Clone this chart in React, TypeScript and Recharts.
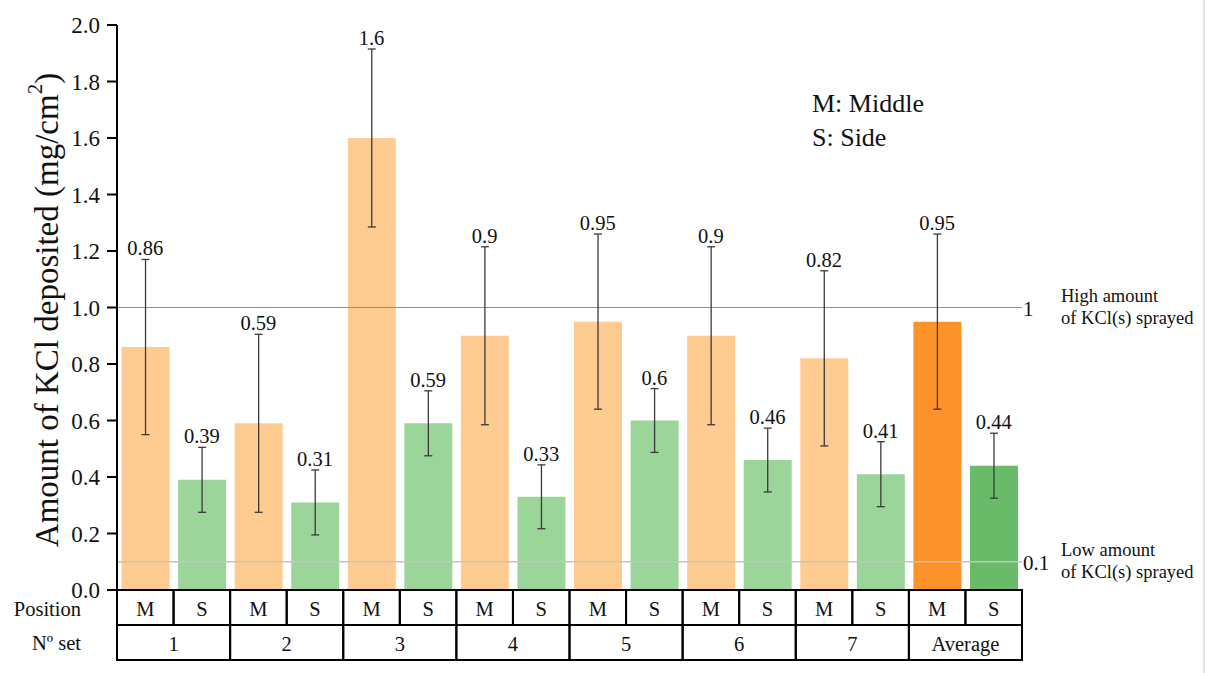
import {
  ComposedChart,
  Bar,
  Cell,
  ErrorBar,
  Line,
  LabelList,
  XAxis,
  YAxis,
  ReferenceLine,
} from "recharts";

const FONT = '"Liberation Serif", "Times New Roman", serif';
const WIDTH = 1205;
const HEIGHT = 673;
const PLOT_LEFT = 117;
const PLOT_RIGHT = 1022;
const ROW_H = 35;

const SET_NAMES = ["1", "2", "3", "4", "5", "6", "7", "Average"];
const POSITIONS = ["M", "S"];
const MIDDLE_VALUES = [0.86, 0.59, 1.6, 0.9, 0.95, 0.9, 0.82, 0.95];
const SIDE_VALUES = [0.39, 0.31, 0.59, 0.33, 0.6, 0.46, 0.41, 0.44];
const MIDDLE_SD = [0.31, 0.315, 0.315, 0.315, 0.31, 0.315, 0.31, 0.31];
const SIDE_SD = [0.115, 0.115, 0.115, 0.113, 0.113, 0.113, 0.115, 0.115];
const Y_TICKS = [0, 0.2, 0.4, 0.6, 0.8, 1.0, 1.2, 1.4, 1.6, 1.8, 2.0];

const COLORS = {
  M: "#fecb91",
  S: "#9bd59a",
  avgM: "#fe922a",
  avgS: "#6abb69",
};

const data = SET_NAMES.flatMap((set, i) => {
  const avg = set === "Average";
  return POSITIONS.map((pos) => {
    const value = pos === "M" ? MIDDLE_VALUES[i] : SIDE_VALUES[i];
    const err = pos === "M" ? MIDDLE_SD[i] : SIDE_SD[i];
    return {
      pos,
      set,
      value,
      err,
      top: value + err,
      color: avg ? (pos === "M" ? COLORS.avgM : COLORS.avgS) : COLORS[pos as "M" | "S"],
    };
  });
});

const COL_W = (PLOT_RIGHT - PLOT_LEFT) / data.length;
const SET_W = (PLOT_RIGHT - PLOT_LEFT) / SET_NAMES.length;

function TableCell({ x, y, payload, cellWidth }: any) {
  return (
    <g>
      <rect
        x={x - cellWidth / 2}
        y={y}
        width={cellWidth}
        height={ROW_H}
        fill="none"
        stroke="#000"
        strokeWidth={2}
      />
      <text
        x={x}
        y={y + ROW_H / 2 + 1}
        textAnchor="middle"
        dominantBaseline="central"
        fontSize={20.5}
        fontFamily={FONT}
        fill="#111"
      >
        {payload.value}
      </text>
    </g>
  );
}

function RefLabel({ viewBox, mark, lead, up, down }: any) {
  const { x, y, width } = viewBox;
  const right = x + width;
  return (
    <g fontFamily={FONT} fill="#111">
      <text x={right + 1} y={y + 1} dominantBaseline="central" fontSize={21}>
        {mark}
      </text>
      <text x={right + 39} y={y - up} dominantBaseline="central" fontSize={18.5}>
        {lead}
      </text>
      <text x={right + 39} y={y + down} dominantBaseline="central" fontSize={18.5}>
        of KCl(s) sprayed
      </text>
    </g>
  );
}

export default function App() {
  return (
    <div
      style={{
        position: "absolute",
        left: 0,
        top: 0,
        width: WIDTH,
        height: HEIGHT,
        background: "#fff",
      }}
    >
      <ComposedChart
        width={WIDTH}
        height={HEIGHT}
        data={data}
        margin={{ top: 25, right: WIDTH - PLOT_RIGHT, bottom: 13, left: PLOT_LEFT - 100 }}
        barCategoryGap="8%"
      >
        <XAxis
          dataKey="pos"
          interval={0}
          height={ROW_H}
          tickSize={0}
          tickMargin={0}
          tickLine={false}
          axisLine={false}
          tick={(p: any) => <TableCell {...p} cellWidth={COL_W} />}
        />
        <XAxis
          xAxisId="set"
          dataKey="set"
          allowDuplicatedCategory={false}
          interval={0}
          height={ROW_H}
          tickSize={0}
          tickMargin={0}
          tickLine={false}
          axisLine={false}
          tick={(p: any) => <TableCell {...p} cellWidth={SET_W} />}
        />
        <YAxis
          width={100}
          domain={[0, 2]}
          ticks={Y_TICKS}
          interval={0}
          tickFormatter={(v: number) => v.toFixed(1)}
          tickSize={10}
          tickMargin={7}
          axisLine={{ stroke: "#000", strokeWidth: 2 }}
          tickLine={{ stroke: "#000", strokeWidth: 2 }}
          tick={{ fontSize: 23, fill: "#111", fontFamily: FONT }}
        />
        <ReferenceLine
          y={1}
          stroke="#8f8f8f"
          strokeWidth={1.2}
          label={<RefLabel mark="1" lead="High amount" up={12} down={10.5} />}
        />
        <ReferenceLine
          y={0.1}
          stroke="#c4c4c4"
          strokeWidth={1.5}
          label={<RefLabel mark="0.1" lead="Low amount" up={12} down={10.5} />}
        />
        <Bar dataKey="value" isAnimationActive={false}>
          {data.map((d, i) => (
            <Cell key={`cell-${i}`} fill={d.color} />
          ))}
          <ErrorBar dataKey="err" width={4} stroke="#3a3a3a" strokeWidth={1.3} />
        </Bar>
        {/* invisible series at the error-bar tops, carrying the value labels */}
        <Line
          dataKey="top"
          stroke="none"
          dot={false}
          activeDot={false}
          legendType="none"
          isAnimationActive={false}
        >
          <LabelList
            dataKey="value"
            position="top"
            offset={4}
            fontSize={20.5}
            fontFamily={FONT}
            fill="#111"
          />
        </Line>
      </ComposedChart>

      <svg
        width={WIDTH}
        height={HEIGHT}
        style={{ position: "absolute", left: 0, top: 0, pointerEvents: "none" }}
        fontFamily={FONT}
        fill="#111"
      >
        <text
          x={47}
          y={310}
          transform="rotate(-90 47 310)"
          textAnchor="middle"
          dominantBaseline="central"
          fontSize={33}
        >
          Amount of KCl deposited (mg/cm
          <tspan fontSize={21} dy={-12}>
            2
          </tspan>
          <tspan dy={12}>)</tspan>
        </text>
        <text x={812} y={103} dominantBaseline="central" fontSize={26}>
          M: Middle
        </text>
        <text x={812} y={137} dominantBaseline="central" fontSize={26}>
          S: Side
        </text>
        <text x={81} y={609} textAnchor="end" dominantBaseline="central" fontSize={20.5}>
          Position
        </text>
        <text x={81} y={643} textAnchor="end" dominantBaseline="central" fontSize={20.5}>
          Nº set
        </text>
        <line x1={1204} y1={0} x2={1204} y2={HEIGHT} stroke="#c8c8c8" strokeWidth={1} />
      </svg>
    </div>
  );
}
